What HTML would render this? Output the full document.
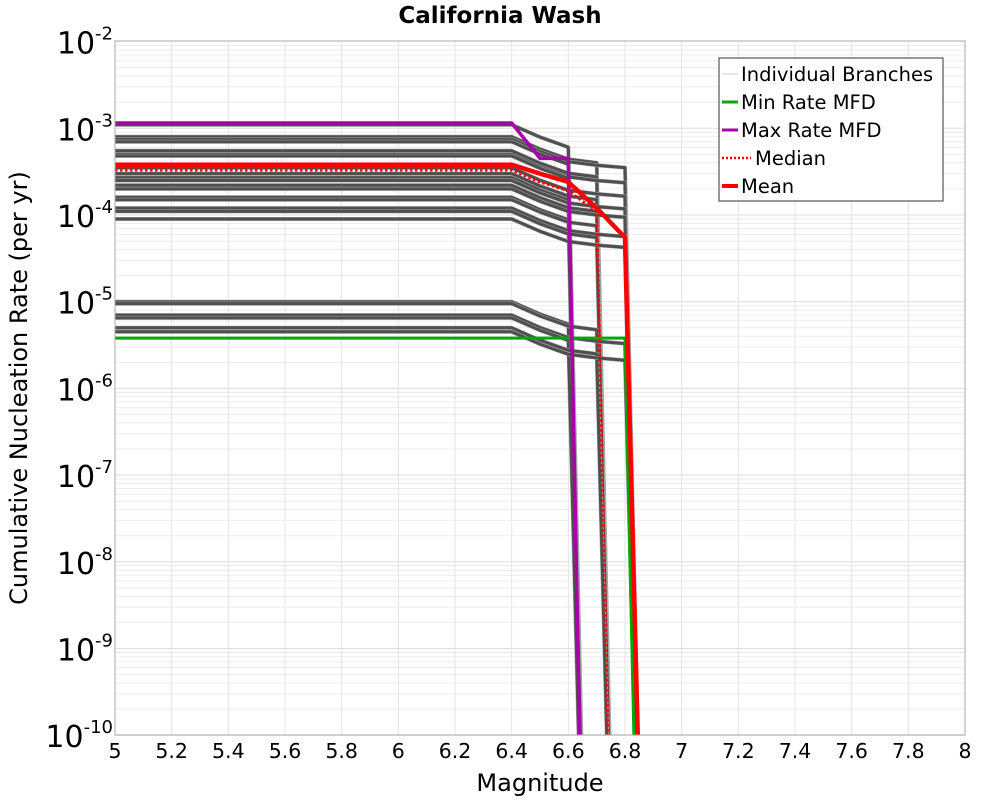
<!DOCTYPE html>
<html><head><meta charset="utf-8">
<style>
html,body{margin:0;background:#fff;width:1000px;height:800px;overflow:hidden;}
svg{display:block;font-family:"DejaVu Sans","Liberation Sans",sans-serif;}
</style></head>
<body>
<svg id="chart" width="1000" height="800" viewBox="0 0 1000 800">
<defs><clipPath id="pc"><rect x="115" y="41" width="850" height="694"/></clipPath></defs>
<text x="500" y="23" text-anchor="middle" font-size="23" font-weight="bold">California Wash</text>
<g id="grid"></g>
<g id="series" clip-path="url(#pc)"></g>
<rect x="115" y="41" width="850" height="694" fill="none" stroke="#aaa" stroke-width="1"/>
<g id="ticks"></g>
<text x="540" y="791" text-anchor="middle" font-size="24">Magnitude</text>
<text transform="translate(27,388) rotate(-90)" text-anchor="middle" font-size="24">Cumulative Nucleation Rate (per yr)</text>
<g>
<rect x="719" y="58" width="224" height="143" fill="#fff" stroke="#555" stroke-width="1.2"/>
<line x1="722" y1="74" x2="738" y2="74" stroke="#ccc" stroke-width="1"/>
<text x="741" y="81" font-size="19.5">Individual Branches</text>
<line x1="722" y1="102" x2="738" y2="102" stroke="#00aa00" stroke-width="3"/>
<text x="741" y="109" font-size="19.5">Min Rate MFD</text>
<line x1="722" y1="130" x2="738" y2="130" stroke="#aa00aa" stroke-width="3"/>
<text x="741" y="137" font-size="19.5">Max Rate MFD</text>
<line x1="722" y1="158" x2="751" y2="158" stroke="#f00" stroke-width="2.5" stroke-dasharray="2,2"/>
<text x="755" y="165" font-size="19.5">Median</text>
<line x1="722" y1="186" x2="738" y2="186" stroke="#f00" stroke-width="4"/>
<text x="741" y="193" font-size="19.5">Mean</text>
</g>
</svg>
<script>
const xTicks=[5,5.2,5.4,5.6,5.8,6,6.2,6.4,6.6,6.8,7,7.2,7.4,7.6,7.8,8];
const yExps=[-2,-3,-4,-5,-6,-7,-8,-9,-10];
const branchRates=[1.1e-3,8e-4,7.5e-4,7e-4,5.5e-4,5e-4,4.8e-4,3.5e-4,3e-4,2.7e-4,2.5e-4,2.2e-4,2e-4,1.6e-4,1.5e-4,1.2e-4,1.1e-4,9e-5,1e-5,9.5e-6,7e-6,6.5e-6,5e-6,4.5e-6];
const branchMmax=[6.6,6.7,6.8,6.6,6.7,6.8,6.6,6.8,6.7,6.6,6.8,6.7,6.8,6.6,6.7,6.8,6.7,6.8,6.6,6.7,6.8,6.6,6.7,6.8];
const stepMags=[5,6.4,6.5,6.6,6.7,6.8];
const stepFactors=[1,1,0.72,0.55,0.5,0.47];
const meanM=[5,6.4,6.5,6.6,6.7,6.8,6.9];
const meanV=[3.8e-4,3.8e-4,3.0e-4,2.4e-4,1.2e-4,5.5e-5,1e-17];
const medianM=[5,6.4,6.5,6.6,6.7,6.8];
const medianV=[3.3e-4,3.3e-4,2.4e-4,1.9e-4,1.1e-4,1e-19];
const maxM=[5,6.4,6.5,6.6,6.7];
const maxV=[1.15e-3,1.15e-3,4.5e-4,4.5e-4,1e-20];
const minM=[5,6.8,6.9];
const minV=[3.8e-6,3.8e-6,1e-20];
const NS="http://www.w3.org/2000/svg";
const X=m=>115+(m-5)/3*850;
const Y=v=>41.6+(-2-Math.log10(v))*86.7;
const grid=document.getElementById('grid'),ticks=document.getElementById('ticks'),ser=document.getElementById('series');
function mk(tag,attrs,parent){const e=document.createElementNS(NS,tag);for(const k in attrs)e.setAttribute(k,attrs[k]);parent.appendChild(e);return e;}
for(let e=-10;e<-2;e++){for(let k=1;k<10;k++){const y=Y(k*Math.pow(10,e));
const l=mk('line',{x1:115,x2:965,y1:y,y2:y,stroke:k==1?'#ddd':'#ececec','stroke-width':1},grid);

}}
xTicks.forEach(t=>{const x=X(t);
const l=mk('line',{x1:x,x2:x,y1:41,y2:735,stroke:'#e4e4e4','stroke-width':1},grid);


const tx=mk('text',{x:x,y:758,'text-anchor':'middle','font-size':20.5},ticks);
tx.textContent=String(t);

});
yExps.forEach(e=>{const y=Y(Math.pow(10,e));
const tx=mk('text',{x:113,y:y+12,'text-anchor':'end','font-size':30},ticks);


const a=document.createElementNS(NS,'tspan');a.textContent='10';tx.appendChild(a);
const b=document.createElementNS(NS,'tspan');b.textContent=String(e);b.setAttribute('font-size','18');b.setAttribute('dy','-14');tx.appendChild(b);});
function path(ms,vs,attrs,name){const d=ms.map((m,i)=>(i?'L':'M')+X(m).toFixed(1)+','+Y(vs[i]).toFixed(1)).join(' ');
const p=mk('path',Object.assign({d:d,fill:'none','stroke-linejoin':'round'},attrs),ser);

}
branchRates.forEach((r,i)=>{const mm=branchMmax[i];const ms=[],vs=[];
stepMags.forEach((m,j)=>{if(m<=mm+1e-9){ms.push(m);vs.push(r*stepFactors[j]);}});
ms.push(mm+0.1);vs.push(1e-18);
path(ms,vs,{stroke:'#aaa','stroke-width':4},'branch-shadow');
path(ms,vs,{stroke:'#4f4f4f','stroke-width':3},'individual-branch');});
path(minM,minV,{stroke:'#00aa00','stroke-width':3},'min-rate-line');
path(maxM,maxV,{stroke:'#aa00aa','stroke-width':3.5},'max-rate-line');
path(medianM,medianV,{stroke:'#f00','stroke-width':3,'stroke-dasharray':'2.5,2.5'},'median-line');
path(meanM,meanV,{stroke:'#f00','stroke-width':4.5},'mean-line');
</script>
</body></html>
